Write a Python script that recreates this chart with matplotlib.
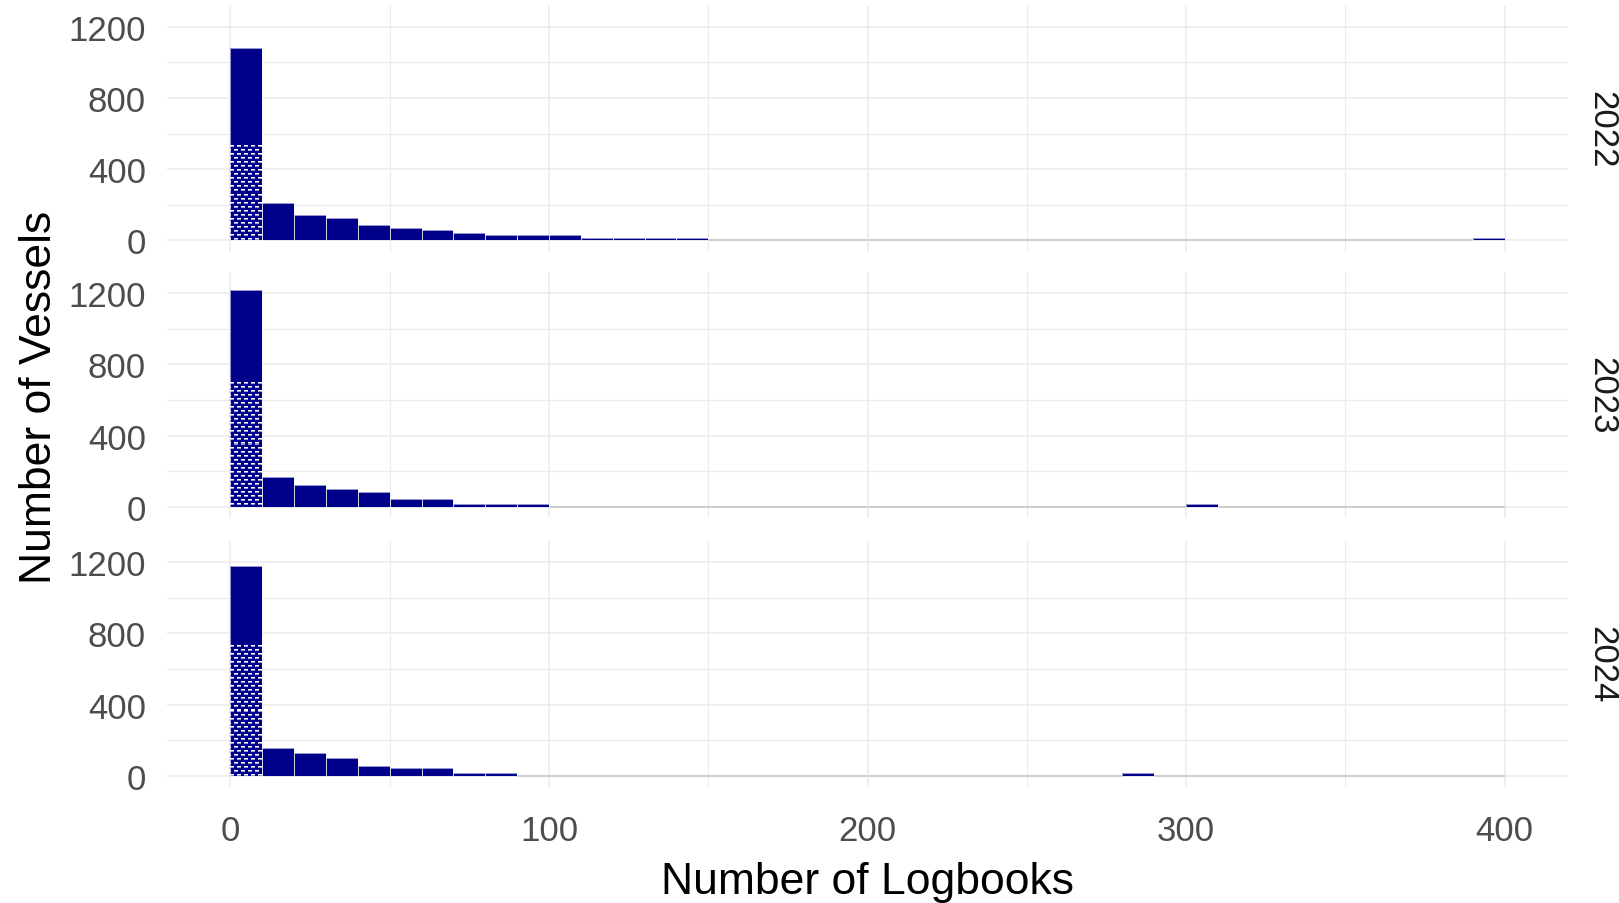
import numpy as np
import matplotlib
matplotlib.use("Agg")
import matplotlib.pyplot as plt

plt.rcParams['font.family'] = ['Liberation Sans', 'DejaVu Sans']

# ---------------- data ----------------
years = ["2022", "2023", "2024"]
bin_edges = list(range(0, 410, 10))  # 40 bins of width 10, 0..400

counts_2022 = [1078, 212, 141, 128, 84, 71, 58, 43, 28, 28,
               30, 15, 15, 15, 15, 0, 0, 0, 0, 0,
               0, 0, 0, 0, 0, 0, 0, 0, 0, 0,
               0, 0, 0, 0, 0, 0, 0, 0, 0, 12]
counts_2023 = [1219, 169, 126, 99, 86, 45, 45, 15, 15, 15,
               0, 0, 0, 0, 0, 0, 0, 0, 0, 0,
               0, 0, 0, 0, 0, 0, 0, 0, 0, 0,
               15, 0, 0, 0, 0, 0, 0, 0, 0, 0]
counts_2024 = [1179, 157, 129, 101, 58, 45, 45, 17, 17, 0,
               0, 0, 0, 0, 0, 0, 0, 0, 0, 0,
               0, 0, 0, 0, 0, 0, 0, 0, 17, 0,
               0, 0, 0, 0, 0, 0, 0, 0, 0, 0]
# patterned (hatched) subset, same bins
hatched_2022 = [534] + [0] * 39
hatched_2023 = [703] + [0] * 39
hatched_2024 = [737] + [0] * 39

x_ticks = [0, 100, 200, 300, 400]
y_ticks = [0, 400, 800, 1200]

all_counts = [counts_2022, counts_2023, counts_2024]
all_hatched = [hatched_2022, hatched_2023, hatched_2024]

# ---------------- style ----------------
W_PX, H_PX = 1619, 904
NAVY = "#00008B"
GRID = "#EBEBEB"
fig = plt.figure(figsize=(W_PX / 100, H_PX / 100), dpi=100)

left_px, right_px = 166.7, 1568.3
panels_px = [(6.5, 252.7), (273.0, 519.2), (542.0, 788.3)]

navy_rgb = np.array([0, 0, 139]) / 255.0
white_rgb = np.array([1.0, 1.0, 1.0])


def make_texture(nx, ny):
    tex = np.tile(navy_rgb, (ny, nx, 1)).astype(float)
    for r in range(ny):
        k = r // 4
        m = r % 4
        off = 0 if k % 2 == 0 else 3
        for c in range(nx):
            if (c + off) % 7 < 4:
                if m == 1:
                    tex[r, c] = white_rgb
                elif m == 2:
                    tex[r, c] = 0.6 * white_rgb + 0.4 * navy_rgb
    return tex


edges = np.array(bin_edges[:-1], dtype=float)
axes = []
for i, (year, counts, hatched) in enumerate(zip(years, all_counts, all_hatched)):
    top, bot = panels_px[i]
    ax = fig.add_axes([left_px / W_PX, 1 - bot / H_PX,
                       (right_px - left_px) / W_PX, (bot - top) / H_PX])
    axes.append(ax)
    counts = np.array(counts, dtype=float)
    hatched = np.array(hatched, dtype=float)

    ax.set_xlim(-20, 420)
    ax.set_ylim(-63, 1318)
    for s in ax.spines.values():
        s.set_visible(False)
    ax.set_xticks(x_ticks)
    ax.set_xticks([50, 150, 250, 350], minor=True)
    ax.set_yticks(y_ticks)
    ax.set_yticks([200, 600, 1000], minor=True)
    ax.grid(which="major", color=GRID, linewidth=1.1)
    ax.grid(which="minor", color=GRID, linewidth=0.8)
    ax.set_axisbelow(True)
    ax.tick_params(which="both", length=0)
    ax.tick_params(axis="y", labelsize=25, labelcolor="#4D4D4D", pad=14.9)
    ax.tick_params(axis="x", labelsize=25, labelcolor="#4D4D4D", pad=19.5)
    if i < 2:
        ax.tick_params(axis="x", labelbottom=False)

    # zero-height bins of patterned layer -> grey baseline strokes
    zero_h = hatched == 0
    ax.bar(edges[zero_h], hatched[zero_h], width=10, align="edge",
           facecolor="none", edgecolor="#C8C8C8", linewidth=1.2, zorder=2.5)

    nz = counts > 0
    ax.bar(edges[nz], counts[nz], width=10, align="edge",
           color=NAVY, linewidth=0, zorder=3)

    # patterned part
    hz = hatched > 0
    hb = ax.bar(edges[hz], hatched[hz], width=10, align="edge",
                facecolor="none", edgecolor="none", linewidth=0, zorder=3.4)
    for x0, h, patch in zip(edges[hz], hatched[hz], hb.patches):
        p0 = ax.transData.transform((x0, 0))
        p1 = ax.transData.transform((x0 + 10, h))
        nx = max(1, int(round(p1[0] - p0[0])))
        ny = max(1, int(round(p1[1] - p0[1])))
        tex = make_texture(nx, ny)
        im = ax.imshow(tex, extent=(x0, x0 + 10, 0, h), origin="upper",
                       aspect="auto", interpolation="nearest", zorder=3.5)
        im.set_clip_path(patch)
    ax.set_xlim(-20, 420)
    ax.set_ylim(-63, 1318)

    ax.bar(edges[nz], counts[nz], width=10, align="edge",
           fill=False, edgecolor="#F4F4FB", linewidth=0.45, zorder=4)

    fig.text(1601.7 / W_PX, 1 - ((top + bot) / 2) / H_PX, year, rotation=-90,
             ha="center", va="center", fontsize=25, color="#1A1A1A")

fig.text((left_px + right_px) / 2 / W_PX, 1 - 894 / H_PX, "Number of Logbooks",
         ha="center", va="baseline", fontsize=32, color="black")
fig.text(51 / W_PX, 1 - ((panels_px[0][0] + panels_px[2][1]) / 2) / H_PX,
         "Number of Vessels", rotation=90, rotation_mode="anchor",
         ha="center", va="baseline", fontsize=32, color="black")

fig.savefig("out.png", dpi=100)
